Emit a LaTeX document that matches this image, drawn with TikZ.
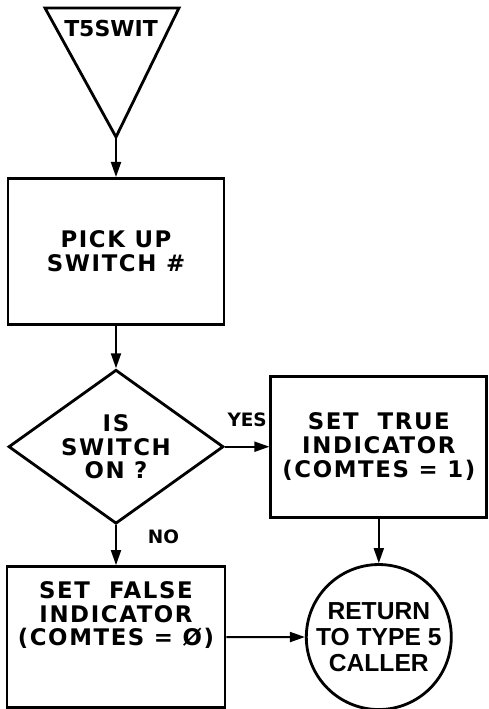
\documentclass[tikz,border=0pt]{standalone}
\usepackage{fontspec}
\setmainfont{DejaVu Sans}
\newfontfamily\lettering[LetterSpace=7]{DejaVu Sans}
\newfontfamily\narrowlettering{Liberation Sans}
\usetikzlibrary{positioning, arrows.meta, shapes.geometric}

\begin{document}
\begin{tikzpicture}[->, >={Triangle[length=0.3cm, width=0.2cm]}, line width=1.1pt,
    box/.style={draw, rectangle, line width=1.6pt, minimum width=4.32cm, minimum height=2.82cm, inner sep=0pt, align=center, font=\fontsize{13}{13.6}\lettering\bfseries},
    boxtext/.style={align=center, inner sep=0pt, font=\fontsize{13}{13.6}\lettering\bfseries},
    decision/.style={draw, diamond, line width=1.6pt, minimum width=4.3cm, minimum height=3.08cm, inner sep=0pt, aspect=1.4, align=center, font=\fontsize{13}{13.6}\lettering\bfseries},
    terminal/.style={draw, circle, line width=1.6pt, minimum size=2.9cm, inner sep=0pt, align=center, font=\fontsize{14}{14.8}\narrowlettering\bfseries},
    branch/.style={font=\fontsize{10.5}{12}\selectfont\bfseries}]
        \useasboundingbox (0,0) rectangle (9.76,-14.18);

        % entry triangle
        \coordinate (t5tip) at (2.32,-2.74);
        \draw[-, line width=1.6pt] (0.90,-0.16) -- (3.58,-0.16) -- (t5tip) -- cycle;
        \node[font=\fontsize{12.5}{14}\selectfont\bfseries] (t5swit) at (2.22,-0.58) {T5SWIT};

        \node[box, minimum height=2.92cm] (pickup) [below=0.8cm of t5tip] {PICK UP\\SWITCH \#};
        \node[decision] (swon) [below=0.85cm of pickup] {IS\\SWITCH\\ON ?};
        \node[box] (settrue) [right=0.89cm of swon] {SET\ \ TRUE\\INDICATOR\\(COMTES = 1)};
        \node[box, minimum width=4.36cm] (setfalse) [below=0.8cm of swon] {};
        \node[boxtext] (falsetext) at ([yshift=0.44cm]setfalse.center) {SET\ \ FALSE\\INDICATOR\\(COMTES = Ø)};
        \node[terminal] (ret) [below=0.89cm of settrue] {RETURN\\TO TYPE 5\\CALLER};

        \draw (t5tip) -- (pickup.north);
        \draw (pickup.south) -- (swon.north);
        \draw (swon.east) -- node[branch, above=0.27cm] {YES} (settrue.west);
        \draw (swon.south) -- node[branch, right=0.5cm, pos=0.3] {NO} (setfalse.north);
        \draw (settrue.south) -- (ret.north);
        \draw (setfalse.east) -- (ret.west);
      \end{tikzpicture}
\end{document}
